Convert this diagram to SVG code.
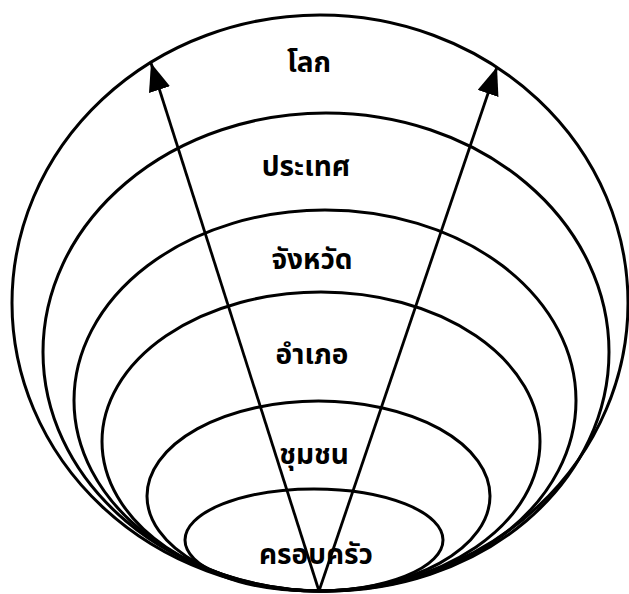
<svg xmlns="http://www.w3.org/2000/svg" width="629" height="594" viewBox="0 0 629 594">
<style>
.ring{fill:none;stroke:#000;stroke-width:3}
.lbl{font-family:'Noto Sans Thai','Noto Sans','DejaVu Sans',sans-serif;font-weight:bold;font-size:28px;fill:#000;text-anchor:middle}
.arr{fill:none;stroke:#000;stroke-width:2.8}
</style>
<defs>
<marker id="ah" markerUnits="userSpaceOnUse" markerWidth="30" markerHeight="24" refX="28" refY="11" orient="auto">
<path d="M0,0 L28,11 L0,22 Z" fill="#000"/>
</marker>
</defs>
<rect width="629" height="594" fill="#fff"/>
<g id="world"><ellipse class="ring" cx="320" cy="303" rx="308" ry="288"/><text class="lbl" x="309" y="72">โลก</text></g>
<g id="country"><ellipse class="ring" cx="326" cy="352" rx="283" ry="239"/><text class="lbl" x="306" y="176">ประเทศ</text></g>
<g id="province"><ellipse class="ring" cx="325" cy="400.5" rx="251" ry="190.5"/><text class="lbl" x="312" y="269">จังหวัด</text></g>
<g id="district"><ellipse class="ring" cx="321" cy="441.5" rx="219" ry="149.5"/><text class="lbl" x="312" y="364">อำเภอ</text></g>
<g id="community"><ellipse class="ring" cx="318.5" cy="496" rx="171.5" ry="95"/><text class="lbl" x="314" y="464">ชุมชน</text></g>
<g id="family"><ellipse class="ring" cx="314" cy="540" rx="129" ry="51"/><text class="lbl" x="316" y="564">ครอบครัว</text></g>
<g id="connectors">
<line class="arr" x1="319" y1="591" x2="151" y2="63" marker-end="url(#ah)"/>
<line class="arr" x1="319" y1="591" x2="497" y2="67" marker-end="url(#ah)"/>
</g>
</svg>
